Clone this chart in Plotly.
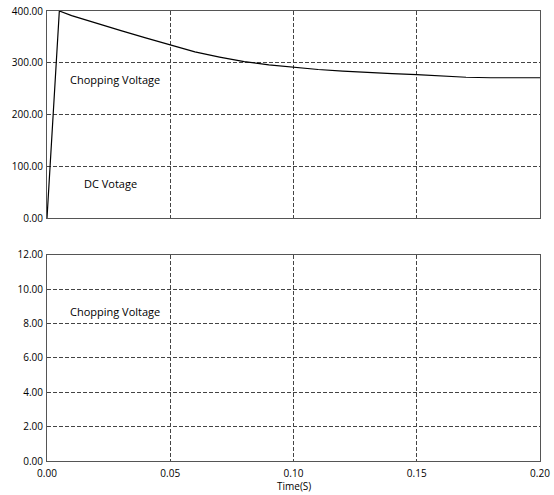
import plotly.graph_objects as go

# Data
time_s = [0, 0.005, 0.01, 0.02, 0.03, 0.04, 0.05, 0.06, 0.07, 0.08, 0.09, 0.10,
          0.11, 0.12, 0.13, 0.14, 0.15, 0.16, 0.17, 0.18, 0.20]
voltage = [0, 400, 391, 376, 362, 348, 334, 321, 311, 302, 296, 291,
           287, 284, 281, 279, 277, 274, 272, 271, 271]

x_ticks = [0.00, 0.05, 0.10, 0.15, 0.20]
x_tick_text = ["0.00", "0.05", "0.10", "0.15", "0.20"]
y1_ticks = [0, 100, 200, 300, 400]
y1_tick_text = ["0.00", "100.00", "200.00", "300.00", "400.00"]
y2_ticks = [0, 2, 4, 6, 8, 10, 12]
y2_tick_text = ["0.00", "2.00", "4.00", "6.00", "8.00", "10.00", "12.00"]

labels_top = [("Chopping Voltage", 0.0276, 267), ("DC Votage", 0.0256, 66)]
labels_bottom = [("Chopping Voltage", 0.0276, 8.7)]

font_family = "Open Sans"
grid_col = "#444444"
frame_col = "#555555"

fig = go.Figure()
fig.add_trace(go.Scatter(x=time_s, y=voltage, mode="lines",
                         line=dict(color="black", width=1.2),
                         xaxis="x", yaxis="y", showlegend=False,
                         hoverinfo="skip"))
# empty lower panel
fig.add_trace(go.Scatter(x=[], y=[], mode="lines", xaxis="x2", yaxis="y2",
                         showlegend=False))

common_axis = dict(showline=True, mirror=True, linecolor=frame_col, linewidth=1,
                   showgrid=True, gridcolor=grid_col, gridwidth=1,
                   griddash="4px,2px", zeroline=False, ticks="",
                   automargin=False, ticklabeloverflow="allow",
                   tickfont=dict(family=font_family, size=10, color="black"))

fig.update_layout(
    width=554, height=495,
    margin=dict(l=47, r=14, t=11, b=34, autoexpand=False),
    paper_bgcolor="white", plot_bgcolor="white",
    font=dict(family=font_family, size=11, color="black"),
    xaxis=dict(domain=[0, 1], range=[0, 0.20], tickvals=x_ticks,
               showticklabels=False, anchor="y", **common_axis),
    yaxis=dict(domain=[0.54, 1.0], range=[0, 400], tickvals=y1_ticks,
               ticktext=y1_tick_text, anchor="x", ticklabelstandoff=1,
               **common_axis),
    xaxis2=dict(domain=[0, 1], range=[0, 0.20], tickvals=x_ticks,
                ticktext=x_tick_text, anchor="y2", ticklabelstandoff=3,
                **common_axis),
    yaxis2=dict(domain=[0, 0.458], range=[0, 12], tickvals=y2_ticks,
                ticktext=y2_tick_text, anchor="x2", ticklabelstandoff=1,
                **common_axis),
)

for text, x, y in labels_top:
    fig.add_annotation(x=x, y=y, xref="x", yref="y", text=text, showarrow=False,
                       font=dict(family=font_family, size=11, color="black"))
for text, x, y in labels_bottom:
    fig.add_annotation(x=x, y=y, xref="x2", yref="y2", text=text, showarrow=False,
                       font=dict(family=font_family, size=11, color="black"))

# axis title
fig.add_annotation(x=0.5, y=0, xref="paper", yref="paper", yshift=-25,
                   yanchor="middle", text="Time(S)", showarrow=False,
                   font=dict(family=font_family, size=10, color="black"))

# remove the default page margin so the figure sits at the window's top-left
fig.write_html("out.html",
               config={"displayModeBar": False},
               post_script="document.body.style.margin='0';")
